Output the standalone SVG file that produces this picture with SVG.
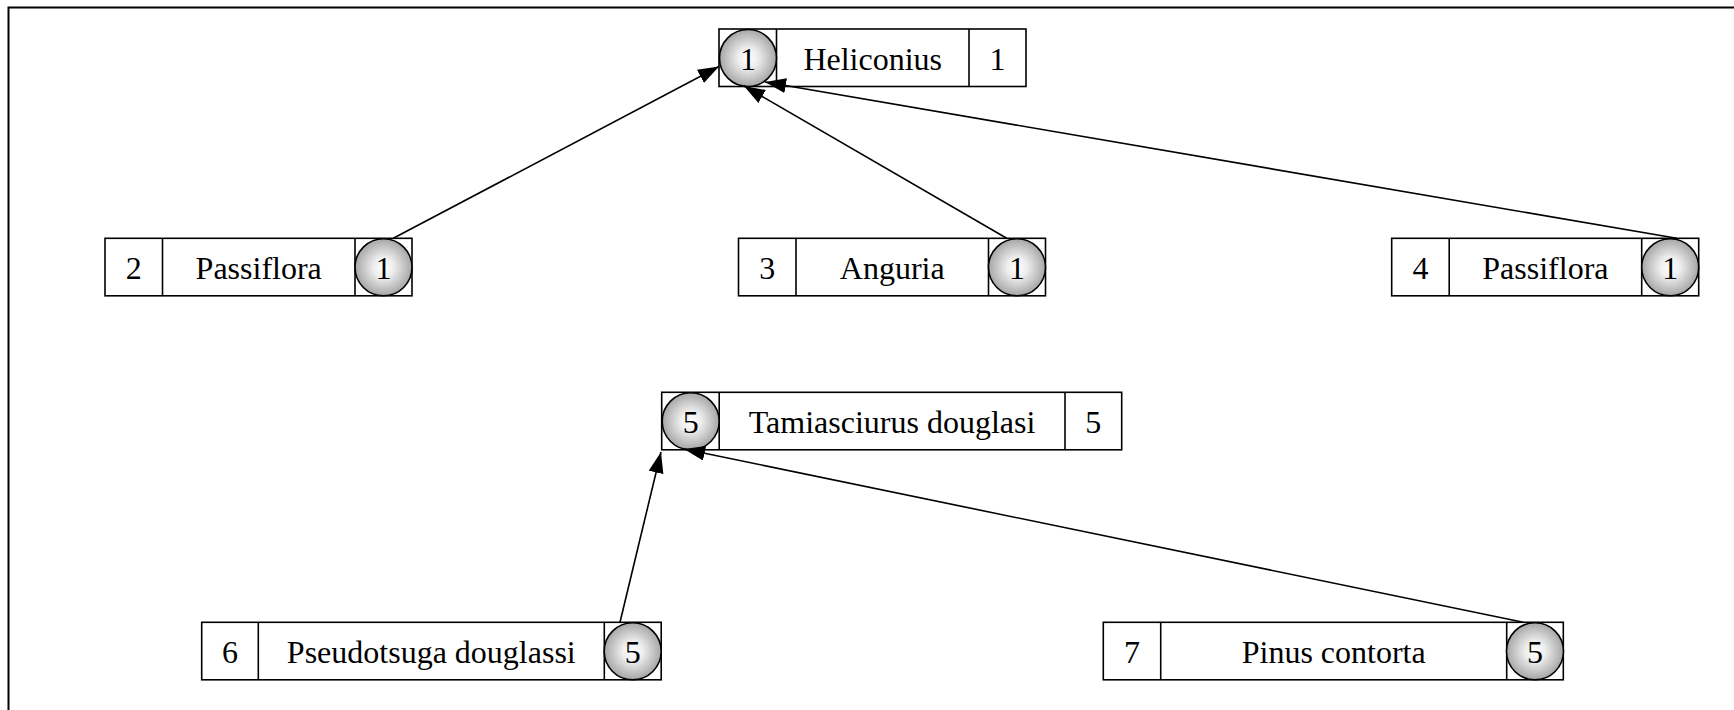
<svg xmlns="http://www.w3.org/2000/svg" width="1734" height="710" viewBox="0 0 1734 710">
<style>
.box{fill:#fff;stroke:#000;stroke-width:1.6}
.div{stroke:#000;stroke-width:1.6}
.ball{fill:url(#g);stroke:#000;stroke-width:1.6}
.t{font-family:"Liberation Serif","Times New Roman",serif;font-size:32px;fill:#000;text-anchor:middle}
.e{stroke:#000;stroke-width:1.6;fill:none;marker-end:url(#ah)}
</style>
<defs>
<radialGradient id="g" cx="50%" cy="50%" r="50%">
<stop offset="0" stop-color="#ffffff"/>
<stop offset="0.35" stop-color="#eeeeee"/>
<stop offset="1" stop-color="#a6a6a6"/>
</radialGradient>
<marker id="ah" markerWidth="21" markerHeight="15" refX="21" refY="7.5" orient="auto" markerUnits="userSpaceOnUse" viewBox="0 0 21 15">
<path d="M0,0 L21,7.5 L0,15 Z" fill="#000"/>
</marker>
</defs>
<rect width="1734" height="710" fill="#fff"/>
<path d="M8.5,720 V7.5 H1745" fill="none" stroke="#000" stroke-width="2"/>

<g id="n1" transform="translate(719,29)">
<rect class="box" width="307" height="57.5"/>
<line class="div" x1="57.5" y1="0" x2="57.5" y2="57.5"/>
<line class="div" x1="250" y1="0" x2="250" y2="57.5"/>
<circle class="ball" cx="29" cy="29" r="28.5"/>
<text class="t" x="29" y="40.5">1</text>
<text class="t" x="153.7" y="40.5">Heliconius</text>
<text class="t" x="278.5" y="40.5">1</text>
</g>

<g id="n2" transform="translate(105,238.3)">
<rect class="box" width="307" height="57.5"/>
<line class="div" x1="57.5" y1="0" x2="57.5" y2="57.5"/>
<line class="div" x1="250" y1="0" x2="250" y2="57.5"/>
<circle class="ball" cx="278.5" cy="29" r="28.5"/>
<text class="t" x="28.7" y="40.5">2</text>
<text class="t" x="153.7" y="40.5">Passiflora</text>
<text class="t" x="278.5" y="40.5">1</text>
</g>

<g id="n3" transform="translate(738.5,238.3)">
<rect class="box" width="307" height="57.5"/>
<line class="div" x1="57.5" y1="0" x2="57.5" y2="57.5"/>
<line class="div" x1="250" y1="0" x2="250" y2="57.5"/>
<circle class="ball" cx="278.5" cy="29" r="28.5"/>
<text class="t" x="28.7" y="40.5">3</text>
<text class="t" x="153.7" y="40.5">Anguria</text>
<text class="t" x="278.5" y="40.5">1</text>
</g>

<g id="n4" transform="translate(1391.7,238.3)">
<rect class="box" width="307" height="57.5"/>
<line class="div" x1="57.5" y1="0" x2="57.5" y2="57.5"/>
<line class="div" x1="250" y1="0" x2="250" y2="57.5"/>
<circle class="ball" cx="278.5" cy="29" r="28.5"/>
<text class="t" x="28.7" y="40.5">4</text>
<text class="t" x="153.7" y="40.5">Passiflora</text>
<text class="t" x="278.5" y="40.5">1</text>
</g>

<g id="n5" transform="translate(661.7,392.3)">
<rect class="box" width="460" height="57.5"/>
<line class="div" x1="57.5" y1="0" x2="57.5" y2="57.5"/>
<line class="div" x1="403.3" y1="0" x2="403.3" y2="57.5"/>
<circle class="ball" cx="29" cy="29" r="28.5"/>
<text class="t" x="29" y="40.5">5</text>
<text class="t" x="230.4" y="40.5">Tamiasciurus douglasi</text>
<text class="t" x="431.6" y="40.5">5</text>
</g>

<g id="n6" transform="translate(201.7,622.3)">
<rect class="box" width="459.5" height="57.5"/>
<line class="div" x1="56.6" y1="0" x2="56.6" y2="57.5"/>
<line class="div" x1="402.6" y1="0" x2="402.6" y2="57.5"/>
<circle class="ball" cx="431" cy="29" r="28.5"/>
<text class="t" x="28.3" y="40.5">6</text>
<text class="t" x="229.6" y="40.5">Pseudotsuga douglassi</text>
<text class="t" x="431" y="40.5">5</text>
</g>

<g id="n7" transform="translate(1103.3,622.3)">
<rect class="box" width="460" height="57.5"/>
<line class="div" x1="57.4" y1="0" x2="57.4" y2="57.5"/>
<line class="div" x1="403.4" y1="0" x2="403.4" y2="57.5"/>
<circle class="ball" cx="431.7" cy="29" r="28.5"/>
<text class="t" x="28.7" y="40.5">7</text>
<text class="t" x="230.4" y="40.5">Pinus contorta</text>
<text class="t" x="431.7" y="40.5">5</text>
</g>

<g id="edges">
<line class="e" x1="393.3" y1="238.3" x2="719" y2="66.5"/>
<line class="e" x1="1006.7" y1="238.3" x2="744" y2="86"/>
<line class="e" x1="1676.7" y1="238.3" x2="765" y2="82"/>
<line class="e" x1="620" y1="622.3" x2="661" y2="452"/>
<line class="e" x1="1523.3" y1="622.3" x2="684" y2="449"/>
</g>
</svg>
